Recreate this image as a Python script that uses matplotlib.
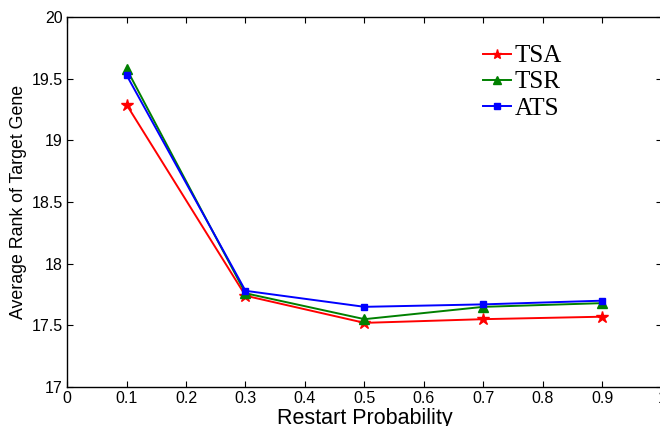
import matplotlib
matplotlib.use("Agg")
import matplotlib.pyplot as plt

# restart probability vs. average rank of the target gene
restart_prob = [0.1, 0.3, 0.5, 0.7, 0.9]
tsa = [19.29, 17.74, 17.52, 17.55, 17.57]
tsr = [19.58, 17.76, 17.55, 17.65, 17.68]
ats = [19.53, 17.78, 17.65, 17.67, 17.70]

x_ticks = [0, 0.1, 0.2, 0.3, 0.4, 0.5, 0.6, 0.7, 0.8, 0.9, 1]
x_ticklabels = ["0", "0.1", "0.2", "0.3", "0.4", "0.5", "0.6", "0.7", "0.8", "0.9", "1"]
y_ticks = [17, 17.5, 18, 18.5, 19, 19.5, 20]
y_ticklabels = ["17", "17.5", "18", "18.5", "19", "19.5", "20"]

SANS = "Liberation Sans"
SERIF = "Liberation Serif"

fig = plt.figure(figsize=(6.6, 4.26), dpi=100)
ax = fig.add_axes([67 / 660, 1 - 387 / 426, 595 / 660, 370 / 426])

ax.plot(restart_prob, tsa, color="#ff0000", marker="*", markersize=9,
        linewidth=1.4, label="TSA")
ax.plot(restart_prob, tsr, color="#008000", marker="^", markersize=7,
        linewidth=1.4, label="TSR")
ax.plot(restart_prob, ats, color="#0000ff", marker="s", markersize=5,
        linewidth=1.4, label="ATS")

ax.set_xlim(0, 1)
ax.set_ylim(17, 20)
ax.set_xticks(x_ticks)
ax.set_xticklabels(x_ticklabels, family=SANS, fontsize=11.5)
ax.set_yticks(y_ticks)
ax.set_yticklabels(y_ticklabels, family=SANS, fontsize=11.5)
ax.tick_params(direction="in", top=True, right=True, length=4, width=0.8, pad=3)
for s in ax.spines.values():
    s.set_linewidth(1.0)

ax.set_xlabel("Restart Probability", family=SANS, fontsize=15.5, labelpad=1)
ax.set_ylabel("Average Rank of Target Gene", family=SANS, fontsize=12.8, labelpad=3)

leg = ax.legend(loc="upper left", bbox_to_anchor=(0.70, 0.925), frameon=False,
                prop={"family": SERIF, "size": 18}, handlelength=1.1,
                handletextpad=0.15, labelspacing=0.15, borderaxespad=0,
                borderpad=0, markerscale=0.75)

fig.savefig("out.png", dpi=100)
